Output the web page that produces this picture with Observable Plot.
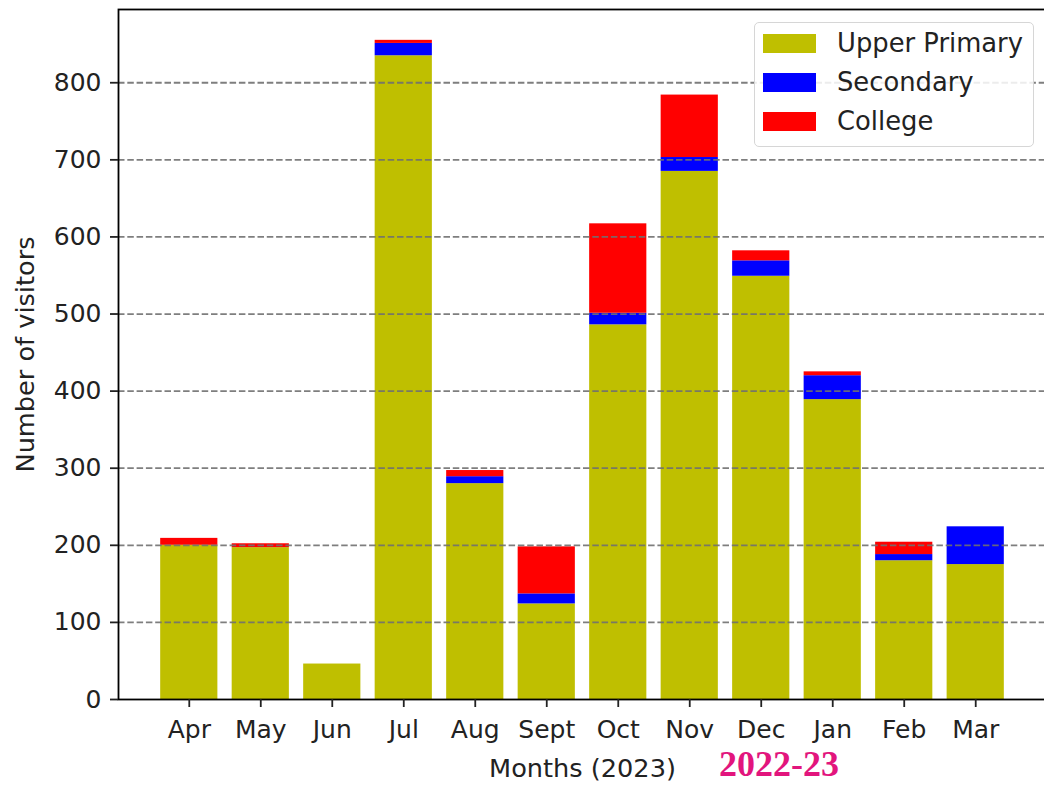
<!DOCTYPE html>
<html>
<head>
<meta charset="utf-8">
<script src="https://cdn.jsdelivr.net/npm/d3@7"></script>
<script src="https://cdn.jsdelivr.net/npm/@observablehq/plot@0.6"></script>
<style>
  html, body { margin: 0; padding: 0; background: white; }
  #wrap { position: relative; width: 1044px; height: 785px; overflow: hidden; font-family: "DejaVu Sans", sans-serif; }
  #wrap svg { max-width: none !important; display: block; }
  #legend { position: absolute; left: 754px; top: 22px; width: 280px; height: 125px; box-sizing: border-box;
            border: 1.5px solid #d6d6d6; border-radius: 5px; background: rgba(255,255,255,0.85); }
  .item { position: absolute; left: 0; height: 30px; }
  .sw { position: absolute; left: 8px; width: 53px; height: 19px; top: 6px; }
  .lab { position: absolute; left: 82px; top: 0px; font-size: 25.8px; line-height: 30px; color: #222; white-space: nowrap; }
  #year { position: absolute; left: 719px; top: 744px; font-family: "Liberation Serif", serif; font-weight: bold;
          font-size: 36px; line-height: 1.15; color: #e2157d; white-space: nowrap; }
</style>
</head>
<body>
<div id="wrap"></div>
<script>
const months = ["Apr","May","Jun","Jul","Aug","Sept","Oct","Nov","Dec","Jan","Feb","Mar"];
const levels = ["Upper Primary","Secondary","College"];
const colors = ["#bfbf00","#0000ff","#ff0000"];
const upperPrimary = [200,197,46,835,280,124,486,685,549,389,180,175];
const secondary   = [0,0,0,16,9,13,15,18,20,31,8,49];
const college     = [9,5,0,4,8,61,116,81,13,5,16,0];
const yTicks = [0,100,200,300,400,500,600,700,800];
const yLabel = "Number of visitors";
const xLabel = "Months (2023)";
const yearNote = "2022-23";

const series = [upperPrimary, secondary, college];
const table = [];
months.forEach((m, i) => {
  levels.forEach((lv, j) => table.push({month: m, level: lv, value: series[j][i]}));
});

const chart = Plot.plot({
  width: 1046,
  height: 785,
  marginLeft: 118,
  marginRight: 0,
  marginTop: 9,
  marginBottom: 86,
  style: {fontFamily: "DejaVu Sans", fontSize: "25px", background: "white", color: "#222", overflow: "visible"},
  x: {domain: months, paddingInner: 0.2, paddingOuter: 0.59, round: false},
  y: {domain: [0, 895]},
  color: {domain: levels, range: colors},
  marks: [
    Plot.barY(table, {x: "month", y: "value", fill: "level", order: levels}),
    Plot.ruleY(yTicks.filter(t => t > 0), {stroke: "#707070", strokeOpacity: 0.9, strokeWidth: 1.8, strokeDasharray: "6.5,2.8"}),
    Plot.frame({stroke: "black", strokeWidth: 1.8}),
    Plot.axisY({ticks: yTicks, tickSize: 8, tickPadding: 9, fontSize: 25, strokeWidth: 1.8, label: null}),
    Plot.axisX({tickSize: 8, tickPadding: 13, fontSize: 25, strokeWidth: 1.8, label: null}),
    Plot.text([yLabel], {text: d => d, frameAnchor: "left", dx: -93, rotate: -90, fontSize: 25.6,
      textAnchor: "middle", lineAnchor: "middle"}),
    Plot.text([xLabel], {text: d => d, frameAnchor: "bottom", dy: 69, fontSize: 25.6,
      textAnchor: "middle", lineAnchor: "middle"})
  ]
});

const wrap = document.getElementById("wrap");
wrap.appendChild(chart);

const legend = document.createElement("div");
legend.id = "legend";
levels.forEach((lv, j) => {
  const item = document.createElement("div");
  item.className = "item";
  item.style.top = (5 + j * 39) + "px";
  const sw = document.createElement("div");
  sw.className = "sw";
  sw.style.background = colors[j];
  const lab = document.createElement("div");
  lab.className = "lab";
  lab.textContent = lv;
  item.appendChild(sw);
  item.appendChild(lab);
  legend.appendChild(item);
});
wrap.appendChild(legend);

const year = document.createElement("div");
year.id = "year";
year.textContent = yearNote;
wrap.appendChild(year);
</script>
</body>
</html>
